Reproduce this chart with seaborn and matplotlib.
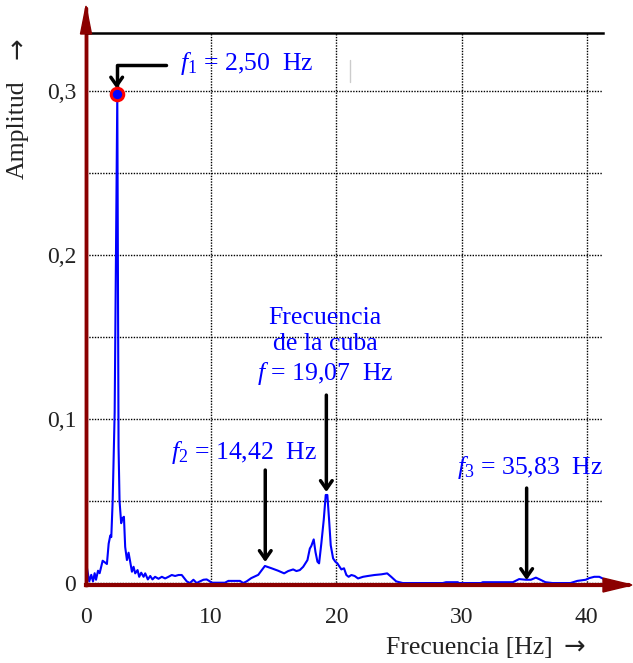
import matplotlib
matplotlib.use('Agg')
import matplotlib.pyplot as plt
from matplotlib.patches import Polygon
import seaborn as sns

# Espectro de amplitud
frecuencia = [0.08, 0.26, 0.42, 0.56, 0.69, 0.80, 0.96, 1.09, 1.33, 1.54,
              1.67, 1.81, 1.94, 2.02, 2.13, 2.29, 2.50, 2.60, 2.68, 2.81,
              2.92, 3.03, 3.13, 3.27, 3.40, 3.53, 3.67, 3.80, 3.93, 4.12,
              4.25, 4.41, 4.60, 4.73, 4.94, 5.13, 5.31, 5.52, 5.79, 6.06,
              6.32, 6.59, 6.85, 7.12, 7.39, 7.65, 8.05, 8.30, 8.58, 8.84,
              9.10, 9.38, 9.64, 9.90, 10.04, 11.10, 11.37, 11.90, 12.30, 12.56,
              12.83, 13.20, 13.76, 14.29, 14.82, 15.35, 15.83, 16.15, 16.55, 16.81,
              17.08, 17.35, 17.69, 17.88, 18.00, 18.19, 18.33, 18.49, 18.62, 18.80,
              18.99, 19.15, 19.28, 19.42, 19.55, 19.74, 19.92, 20.08, 20.26, 20.40,
              20.61, 20.80, 20.98, 21.20, 21.46, 21.73, 22.13, 22.52, 23.05, 23.59,
              24.06, 24.38, 24.78, 25.30, 28.50, 28.76, 29.70, 29.80, 31.55, 31.70,
              34.10, 34.60, 35.14, 35.54, 35.94, 36.30, 36.70, 37.26, 38.70, 39.25,
              39.92, 40.20, 40.60, 41.00, 41.38]
amplitud = [0.009, 0.001, 0.005, 0.001, 0.006, 0.002, 0.0075, 0.006, 0.0136, 0.0124,
            0.0116, 0.024, 0.029, 0.028, 0.05, 0.104, 0.298, 0.083, 0.05, 0.0365,
            0.0396, 0.0404, 0.022, 0.014, 0.0185, 0.013, 0.0069, 0.0099, 0.0059, 0.0079,
            0.0038, 0.0063, 0.0038, 0.0059, 0.0022, 0.0043, 0.0022, 0.0038, 0.0026, 0.0038,
            0.0028, 0.0038, 0.0049, 0.0043, 0.0049, 0.0049, 0.001, 0.0, 0.002, 0.0,
            0.001, 0.002, 0.0022, 0.001, 0.0002, 0.0002, 0.0013, 0.0013, 0.0013, 0.0,
            0.001, 0.003, 0.005, 0.0104, 0.009, 0.0075, 0.0059, 0.0073, 0.0083, 0.0073,
            0.0079, 0.0099, 0.014, 0.021, 0.0226, 0.0266, 0.019, 0.013, 0.012, 0.0242,
            0.0384, 0.0537, 0.0537, 0.0384, 0.023, 0.015, 0.013, 0.012, 0.0099, 0.0083,
            0.009, 0.0049, 0.0038, 0.0049, 0.0043, 0.0028, 0.0038, 0.0043, 0.0049, 0.0053,
            0.0059, 0.0038, 0.001, 0.0, 0.0, 0.0005, 0.0005, 0.0, 0.0, 0.0005,
            0.0005, 0.0024, 0.002, 0.002, 0.0033, 0.002, 0.0005, 0.0, 0.0, 0.0013,
            0.002, 0.003, 0.0038, 0.0038, 0.0024]

x_ticks = [0, 10, 20, 30, 40]
x_labels = ['0', '10', '20', '30', '40']
y_ticks = [0, 0.05, 0.1, 0.15, 0.2, 0.25, 0.3]
y_labels = ['0', '', '0,1', '', '0,2', '', '0,3']

# picos marcados
f1, a1 = 2.50, 0.298
f_cuba = 19.2
f2 = 14.42
f3 = 35.2

sns.set_theme(style='white')
plt.rcParams['font.family'] = ['Liberation Serif', 'DejaVu Serif']
plt.rcParams['mathtext.fontset'] = 'custom'
plt.rcParams['mathtext.rm'] = 'Liberation Serif'
plt.rcParams['mathtext.it'] = 'Liberation Serif:italic'

W, H = 633, 663
rojo = '#8B0000'
azul = '#0000FF'
gris = '#222222'
fs = 18.5

fig = plt.figure(figsize=(W / 100, H / 100), dpi=100)
ax = fig.add_axes([86 / W, 1 - 585 / H, (603 - 86) / W, (585 - 33) / H])

sns.lineplot(x=frecuencia, y=amplitud, ax=ax, color=azul, linewidth=1.5)
ax.plot([f1], [a1], 'o', markersize=9, markerfacecolor=azul,
        markeredgecolor='red', markeredgewidth=2.2, zorder=5)

ax.set_xlim(0, 41.3)
ax.set_ylim(-0.0012, 0.3354)
ax.set_xticks(x_ticks)
ax.set_xticklabels(x_labels)
ax.set_yticks(y_ticks)
ax.set_yticklabels(y_labels)
ax.tick_params(axis='x', length=0, pad=16, labelsize=17, colors=gris)
ax.tick_params(axis='y', length=0, pad=7, labelsize=17, colors=gris)
ax.grid(True, color='black', linestyle=(0, (1, 1)), linewidth=1)

ax.spines['right'].set_visible(False)
ax.spines['top'].set_color('black')
ax.spines['top'].set_linewidth(1.8)
ax.spines['left'].set_color(rojo)
ax.spines['left'].set_linewidth(2.5)
ax.spines['bottom'].set_color(rojo)
ax.spines['bottom'].set_linewidth(3)

# flechas de los ejes (en pixeles de la figura)
def fp(px, py):
    return (px / W, 1 - py / H)

ax.plot([0, 0], [0, 1.045], color=rojo, lw=2.5, transform=ax.transAxes, clip_on=False)
ax.plot([1, 1.05], [0, 0], color=rojo, lw=3, transform=ax.transAxes, clip_on=False)
fig.patches.append(Polygon([fp(86, 6), fp(80.5, 34), fp(91.5, 34)], closed=True,
                           color=rojo, transform=fig.transFigure))
fig.patches.append(Polygon([fp(632, 585), fp(603, 578), fp(603, 592)], closed=True,
                           color=rojo, transform=fig.transFigure))

flecha = dict(arrowstyle='->,head_length=0.5,head_width=0.35', color='black', lw=2.5,
              shrinkA=0, shrinkB=0)

# f1
ax.annotate('', xy=(f1 - 0.05, 0.3015), xytext=(6.4, 0.3159),
            arrowprops=dict(flecha, connectionstyle='angle,angleA=0,angleB=90,rad=0'))
ax.text(7.5, 0.3165, r'$f_1$ = 2,50  Hz', color=azul, fontsize=fs, ha='left', va='center')
ax.plot([21.1, 21.1], [0.3055, 0.319], color='#cccccc', lw=1)

# frecuencia de la cuba
ax.text(19.1, 0.1439, 'Frecuencia\nde la cuba\n' + r'$f$ = 19,07  Hz', color=azul,
        fontsize=fs, ha='center', va='center', linespacing=1.25)
ax.annotate('', xy=(f_cuba, 0.0555), xytext=(f_cuba, 0.1146), arrowprops=flecha)

# f2
ax.text(12.6, 0.0799, r'$f_2$ = 14,42  Hz', color=azul, fontsize=fs, ha='center', va='center')
ax.annotate('', xy=(f2 - 0.1, 0.0128), xytext=(f2 - 0.1, 0.0689), arrowprops=flecha)

# f3
ax.text(35.5, 0.0707, r'$f_3$ = 35,83  Hz', color=azul, fontsize=fs, ha='center', va='center')
ax.annotate('', xy=(f3, 0.0018), xytext=(f3, 0.0579), arrowprops=flecha)

# rótulos de los ejes
fig.text(18 / W, 1 - 130 / H, 'Amplitud', rotation=90, ha='center', va='center',
         fontsize=fs, color=gris)
fig.text(18 / W, 1 - 48 / H, '→', rotation=90, ha='center', va='center',
         fontsize=fs, color=gris, family='DejaVu Sans')
fig.text(553 / W, 1 - 648 / H, 'Frecuencia [Hz]', ha='right', va='center',
         fontsize=fs, color=gris)
fig.text(574 / W, 1 - 648 / H, '→', ha='center', va='center',
         fontsize=fs, color=gris, family='DejaVu Sans')

fig.savefig('out.png', dpi=100)
